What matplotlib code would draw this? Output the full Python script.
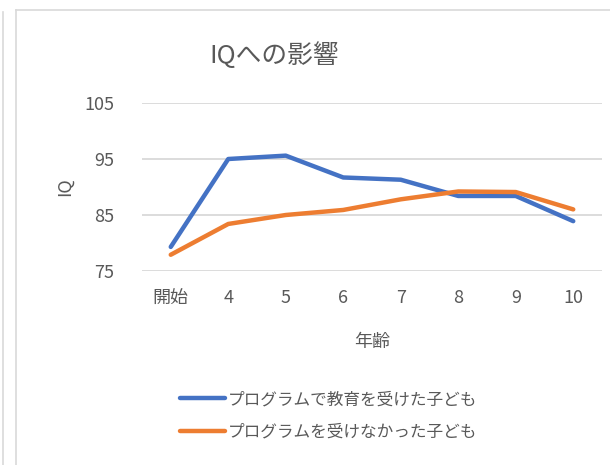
import matplotlib
matplotlib.use('Agg')
import matplotlib.pyplot as plt
from matplotlib.lines import Line2D

plt.rcParams['font.family'] = ['Noto Sans CJK JP', 'DejaVu Sans']

# data
ages = ['開始', '4', '5', '6', '7', '8', '9', '10']
with_program = [79.3, 95.0, 95.6, 91.7, 91.3, 88.4, 88.4, 83.9]
without_program = [77.9, 83.4, 85.0, 85.9, 87.8, 89.2, 89.1, 86.0]
series_names = ['プログラムで教育を受けた子ども', 'プログラムを受けなかった子ども']
yticks = [75, 85, 95, 105]

txt = '#595959'
grid = '#d9d9d9'

fig = plt.figure(figsize=(6.10, 4.65), dpi=100)
ax = fig.add_axes([142/610, 1 - 271/465, 460/610, 168/465])

x = range(len(ages))
ax.plot(x, with_program, color='#4472C4', lw=3.2, solid_capstyle='round', label=series_names[0])
ax.plot(x, without_program, color='#ED7D31', lw=3.2, solid_capstyle='round', label=series_names[1])

ax.set_xlim(-0.5, len(ages) - 0.5)
ax.set_ylim(75, 105)
ax.set_yticks(yticks)
ax.set_xticks(list(x))
ax.set_xticklabels(ages)
ax.yaxis.grid(True, color=grid, lw=1.3)
ax.set_axisbelow(True)
for s in ax.spines.values():
    s.set_visible(False)
ax.tick_params(length=0, labelsize=13, colors=txt)
ax.tick_params(axis='y', pad=20)
ax.tick_params(axis='x', pad=13)

fig.text(372/610, 1 - 342/465, '年齢', ha='center', va='center', fontsize=13, color=txt)
fig.text(65/610, 1 - 187/465, 'IQ', ha='center', va='center', rotation=90, fontsize=13, color=txt)
fig.text(274/610, 1 - 56/465, 'IQへの影響', ha='center', va='center', fontsize=18.5, color=txt)

leg = ax.legend(loc='upper left', bbox_to_anchor=(180/610, 1 - 391/465), bbox_transform=fig.transFigure,
                frameon=False, fontsize=12, handlelength=2.7, handletextpad=0.2, labelspacing=0.95,
                borderpad=0, borderaxespad=0)
for t in leg.get_texts():
    t.set_color(txt)

# frame lines of the spreadsheet chart area
fig.add_artist(Line2D([3/610, 3/610], [0, 1 - 12/465], color=grid, lw=1.2, transform=fig.transFigure))
fig.add_artist(Line2D([16/610, 16/610], [0, 1 - 10/465], color=grid, lw=1.2, transform=fig.transFigure))
fig.add_artist(Line2D([16/610, 1], [1 - 10/465, 1 - 10/465], color=grid, lw=1.2, transform=fig.transFigure))

fig.savefig('out.png', dpi=100)
